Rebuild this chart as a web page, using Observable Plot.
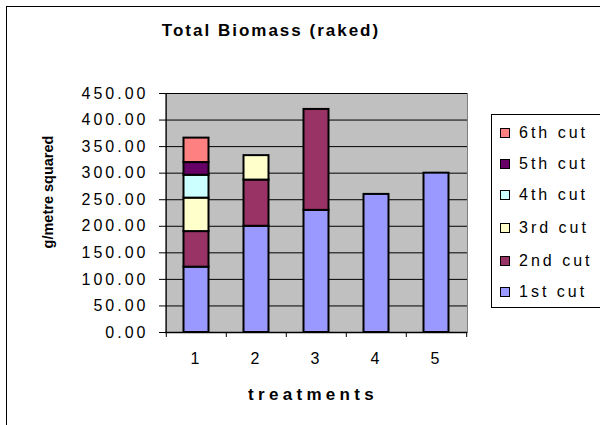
<!DOCTYPE html>
<html>
<head>
<meta charset="utf-8">
<script src="https://cdn.jsdelivr.net/npm/d3@7"></script>
<script src="https://cdn.jsdelivr.net/npm/@observablehq/plot@0.6"></script>
<style>
  html, body { margin: 0; padding: 0; background: #fff; }
  #wrap { position: relative; width: 600px; height: 425px; overflow: hidden; font-family: "Liberation Sans", Arial, sans-serif; }
  #border { position: absolute; left: 6px; top: 6px; width: 700px; height: 500px; border-left: 1px solid #000; border-top: 1px solid #000; box-sizing: border-box; }
  #chart { position: absolute; left: 0; top: 0; }
  .lbl { position: absolute; color: #000; white-space: nowrap; font-weight: bold; }
  #title { left: 271px; top: 31px; transform: translate(-50%, -50%); font-size: 17px; letter-spacing: 2px; }
  #xlabel { left: 313px; top: 395px; transform: translate(-50%, -50%); font-size: 17px; letter-spacing: 4.3px; }
  #ylabel { left: 48px; top: 192px; transform: translate(-50%, -50%) rotate(-90deg); font-size: 14.5px; }
  #legend { position: absolute; left: 491px; top: 114px; width: 140px; height: 194px; border: 1px solid #000; box-sizing: border-box; background: #fff; }
  .item { position: absolute; left: 8px; height: 20px; display: flex; align-items: center; font-size: 16px; letter-spacing: 3px; }
  .sw { width: 8px; height: 8px; border: 1px solid #000; margin-right: 9px; }
  #chart svg text { letter-spacing: 3px; }
</style>
</head>
<body>
<div id="wrap">
  <div id="border"></div>
  <div id="chart"></div>
  <div id="title" class="lbl">Total Biomass (raked)</div>
  <div id="xlabel" class="lbl">treatments</div>
  <div id="ylabel" class="lbl">g/metre squared</div>
  <div id="legend"></div>
</div>
<script>
const treatments = ["1", "2", "3", "4", "5"];
const cuts = ["1st cut", "2nd cut", "3rd cut", "4th cut", "5th cut", "6th cut"];
const cut1 = [123, 200, 230, 260, 300];
const cut2 = [67, 87, 190, 0, 0];
const cut3 = [63, 46, 0, 0, 0];
const cut4 = [43, 0, 0, 0, 0];
const cut5 = [24, 0, 0, 0, 0];
const cut6 = [46, 0, 0, 0, 0];
const cutColors = ["#9999FF", "#993366", "#FFFFCC", "#CCFFFF", "#660066", "#FF8080"];
const yTicks = [0, 50, 100, 150, 200, 250, 300, 350, 400, 450];

const series = [cut1, cut2, cut3, cut4, cut5, cut6];
const rows = [];
treatments.forEach((t, i) => {
  series.forEach((s, k) => {
    if (s[i] > 0) rows.push({treatment: t, cut: cuts[k], value: s[i]});
  });
});

const W = 600, H = 425, mL = 165, mR = 133, mT = 93, mB = 93;
const step = (W - mL - mR) / treatments.length;

const chart = Plot.plot({
  width: W,
  height: H,
  marginLeft: mL,
  marginRight: mR,
  marginTop: mT,
  marginBottom: mB,
  style: {fontFamily: "'Liberation Sans', Arial, sans-serif", fontSize: "16px", color: "#000", background: "transparent"},
  x: {type: "band", domain: treatments, padding: 0, label: null},
  y: {domain: [0, 450], label: null},
  color: {domain: cuts, range: cutColors},
  marks: [
    Plot.frame({fill: "#C0C0C0", stroke: "#808080"}),
    Plot.gridY(yTicks, {stroke: "#000", strokeOpacity: 1, strokeWidth: 1}),
    Plot.barY(rows, {x: "treatment", y: "value", fill: "cut", stroke: "#000", strokeWidth: 2, insetLeft: 17.5, insetRight: 17.5}),
    Plot.ruleY([0], {stroke: "#000", strokeWidth: 1.5}),
    Plot.ruleX(["1"], {x: d => d, dx: -step / 2, stroke: "#000", strokeWidth: 1}),
    Plot.ruleX(treatments, {x: d => d, y1: 0, y2: 0, dx: -step / 2, insetBottom: -5, stroke: "#000"}),
    Plot.ruleX(["5"], {x: d => d, y1: 0, y2: 0, dx: step / 2, insetBottom: -5, stroke: "#000"}),
    Plot.axisY({ticks: yTicks, tickFormat: d3.format(".2f"), tickSize: 6, tickPadding: 11, fontSize: 16, label: null}),
    Plot.axisX({tickSize: 0, tickPadding: 20, fontSize: 16, label: null})
  ]
});
document.getElementById("chart").appendChild(chart);

const legend = document.getElementById("legend");
const itemTops = [132, 163, 194, 227, 260, 291];
cuts.slice().reverse().forEach((c, j) => {
  const k = cuts.length - 1 - j;
  const it = document.createElement("div");
  it.className = "item";
  it.style.top = (itemTops[j] - 114 - 10) + "px";
  const sw = document.createElement("div");
  sw.className = "sw";
  sw.style.background = cutColors[k];
  const tx = document.createElement("span");
  tx.textContent = c;
  it.appendChild(sw);
  it.appendChild(tx);
  legend.appendChild(it);
});
</script>
</body>
</html>
